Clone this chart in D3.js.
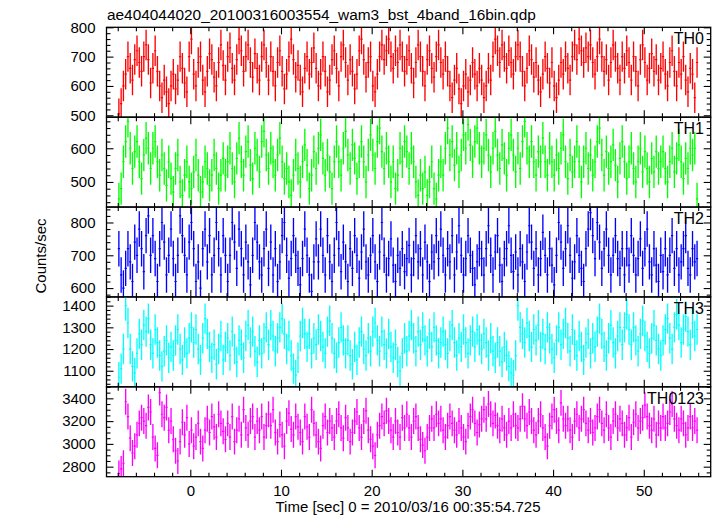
<!DOCTYPE html>
<html><head><meta charset="utf-8">
<script src="https://cdn.jsdelivr.net/npm/d3@7"></script>
<style>
html,body{margin:0;padding:0;background:#fff;}
svg{display:block;font-family:"Liberation Sans",Arial,Helvetica,sans-serif;}
</style></head>
<body>
<svg id="chart" width="717" height="516"></svg>
<script>
const title = "ae404044020_20100316003554_wam3_bst_4band_16bin.qdp";
const xLabel = "Time [sec] 0 = 2010/03/16 00:35:54.725";
const yLabel = "Counts/sec";
const panelNames = ["TH0","TH1","TH2","TH3","TH0123"];
const tStart = -7.875, binWidth = 0.25;

const th0 = [
505,540,600,640,700,660,620,690,720,680,650,700,740,690,610,660,
720,650,600,560,620,580,540,600,640,590,620,700,660,610,580,700,
760,640,600,680,700,620,580,650,710,690,630,600,680,740,670,620,
700,730,660,620,690,760,720,650,700,740,680,630,710,660,620,700,
740,680,620,700,650,600,680,720,650,590,640,700,760,690,630,670,
620,580,660,700,640,680,730,660,600,640,700,650,580,620,690,720,
660,600,700,740,680,620,690,650,590,640,720,760,690,630,680,700,
600,580,640,700,740,690,720,760,700,660,720,680,740,700,650,690,
720,660,610,680,740,700,650,600,690,720,660,630,700,740,680,640,
700,650,600,560,620,660,590,540,600,640,580,620,680,640,600,660,
620,560,600,660,620,700,760,720,680,740,700,660,720,680,640,700,
740,700,650,600,660,720,690,630,680,620,580,640,700,660,610,680,
600,560,620,680,640,700,660,620,700,740,690,760,720,680,730,700,
740,680,640,700,760,700,650,690,620,680,740,700,660,620,700,660,
720,680,620,700,650,600,690,740,680,620,660,710,650,690,620,660,
700,640,600,680,720,650,600,680,640,700,620,580,660,640,560,680];

const th1 = [
450,480,560,620,680,600,540,590,620,560,510,580,630,600,540,600,
620,560,520,580,540,490,560,510,470,540,580,500,460,520,560,500,
480,530,580,520,470,500,560,540,490,520,580,540,480,520,570,520,
560,600,540,500,570,630,560,520,590,620,550,510,600,580,530,620,
650,580,540,600,560,520,580,630,560,510,540,500,460,520,580,540,
500,560,610,550,480,520,590,540,600,640,570,520,580,530,480,560,
620,560,520,600,650,580,540,610,570,510,560,620,560,500,580,640,
580,540,620,660,590,540,600,560,500,560,480,520,600,560,620,590,
540,600,560,500,460,520,480,530,460,500,560,480,450,520,560,520,
600,660,580,620,550,600,530,580,640,600,670,610,560,620,660,600,
560,600,640,580,530,600,650,580,540,610,570,520,600,640,580,530,
600,540,620,680,600,560,620,560,520,590,560,630,560,520,600,560,
520,580,540,600,640,560,510,580,530,560,620,560,500,560,600,540,
580,520,560,620,660,580,520,590,540,560,610,550,500,570,620,560,
510,560,600,540,500,560,600,530,590,540,500,570,530,590,540,560,
590,540,500,560,600,530,570,610,560,510,570,540,600,580,600,450];

const th2 = [
720,640,600,660,720,680,620,740,700,780,720,650,760,820,700,760,
690,620,720,800,740,640,700,780,690,620,700,820,760,700,640,740,
800,720,620,680,600,720,780,680,760,640,700,800,720,640,760,700,
620,700,800,740,660,780,720,640,740,680,610,700,800,740,680,640,
720,780,660,740,640,720,620,680,760,800,700,630,690,760,700,660,
610,690,780,700,640,590,680,750,680,780,700,640,760,680,620,700,
800,720,650,740,680,620,720,660,760,700,630,710,780,680,640,700,
760,680,620,710,800,700,640,690,750,670,620,700,660,720,650,690,
730,640,690,760,680,720,640,740,680,620,710,680,760,690,780,700,
640,720,680,760,640,710,790,700,640,690,760,700,660,610,680,720,
690,640,720,790,700,640,710,760,670,620,690,720,790,700,650,710,
640,720,680,620,710,790,740,660,720,640,690,770,700,640,720,670,
610,700,800,740,660,720,790,700,630,680,760,700,660,620,720,780,
830,760,690,800,740,660,720,780,700,640,700,760,690,660,720,640,
720,670,760,700,640,690,750,660,720,780,680,640,720,670,620,700,
650,720,640,700,760,660,720,640,680,720,760,660,640,720,680,690];

const th3 = [
1070,1110,1200,1400,1320,1200,1120,1090,1180,1270,1220,1310,1280,1340,1220,1180,
1290,1230,1170,1120,1190,1240,1160,1210,1170,1240,1290,1200,1150,1230,1180,1250,
1300,1230,1290,1200,1150,1250,1340,1270,1210,1160,1220,1130,1200,1260,1150,1210,
1250,1170,1280,1200,1140,1240,1220,1160,1260,1310,1230,1280,1190,1140,1240,1180,
1250,1300,1220,1310,1260,1190,1250,1300,1340,1270,1200,1260,1170,1110,1080,1160,
1260,1320,1270,1210,1270,1180,1250,1220,1290,1260,1210,1180,1280,1330,1250,1180,
1160,1230,1300,1240,1180,1240,1170,1130,1210,1150,1230,1280,1200,1170,1250,1190,
1280,1320,1240,1190,1280,1220,1180,1270,1210,1160,1220,1140,1100,1180,1250,1190,
1260,1310,1250,1190,1280,1220,1300,1240,1190,1270,1210,1300,1240,1180,1230,1280,
1220,1180,1260,1310,1230,1170,1250,1210,1290,1230,1180,1240,1280,1210,1290,1240,
1200,1270,1230,1170,1250,1190,1160,1230,1190,1140,1210,1170,1120,1090,1080,1170,
1400,1300,1270,1230,1320,1260,1210,1290,1240,1310,1210,1270,1200,1300,1250,1200,
1160,1240,1300,1220,1270,1320,1250,1190,1290,1220,1170,1260,1210,1150,1230,1270,
1180,1250,1210,1280,1340,1270,1210,1170,1250,1310,1230,1180,1260,1300,1220,1300,
1360,1290,1220,1300,1240,1190,1270,1330,1260,1210,1180,1250,1310,1240,1200,1170,
1240,1290,1340,1250,1200,1300,1360,1310,1230,1290,1350,1280,1220,1320,1260,1290];

const th0123 = [
2740,2780,2830,3370,3240,3050,2920,2980,3080,3180,3230,3200,3160,3320,3280,3060,
2960,2900,3450,3260,3230,3320,3120,3200,3040,2940,2850,3020,3190,3080,3230,3000,
3120,2980,3060,3180,3020,2960,3120,3220,3100,3240,3150,3060,3260,3180,3110,3040,
3180,3060,3240,3020,3120,3220,3080,3300,3140,3080,3200,3240,3060,3200,3120,3240,
3060,3160,3260,3160,3300,3100,3020,3170,3080,2980,3200,3270,3130,3080,3240,3150,
3100,3020,3240,3150,3060,3300,3180,3080,3020,2960,3160,3240,3100,3200,3140,3060,
3200,3260,3140,3050,3230,3140,3020,3100,3200,3280,3140,3060,3200,3290,3120,3040,
2980,2900,3080,3160,3240,3180,3290,3200,3120,3060,3200,3100,3060,3230,3140,3260,
3140,3060,3200,3240,3140,3040,2990,2940,3060,3140,3220,3140,3260,3180,3220,3120,
3060,3160,3240,3180,3120,3080,3200,3140,3060,3020,3160,3240,3300,3180,3100,3170,
3220,3300,3220,3350,3260,3180,3250,3160,3120,3220,3140,3080,3200,3140,3260,3160,
3140,3220,3330,3220,3160,3280,3200,3120,3080,3200,3260,3140,3060,2980,3160,3240,
3300,3200,3120,3360,3220,3160,3220,3120,3060,3200,3260,3140,3220,3300,3180,3120,
3200,3100,3140,3240,3300,3180,3120,3260,3140,3060,3200,3260,3140,3220,3180,3080,
3140,3230,3060,3190,3260,3140,3200,3230,3340,3240,3160,3120,3220,3080,3180,3140,
3240,3140,3180,3280,3350,3220,3160,3120,3220,3180,3080,3140,3240,3140,3200,3120];

const seriesErrors = [52, 48, 54, 70, 114];
const yDomains = [[493.5,800],[425.5,692.3],[573,847],[1026,1440],[2712,3501]];
const yMajorTicks = [[500,600,700,800],[500,600],[600,700,800],[1100,1200,1300,1400],[2800,3000,3200,3400]];
const yMinorSteps = [20,20,20,20,50];
const xMajorTicks = [0,10,20,30,40,50];
const xMinorStep = 2;
const colors = ["#ff0000","#00ff00","#0000ff","#00ffff","#ff00ff"];
const seriesList = [th0, th1, th2, th3, th0123];

(function draw() {
const svg = d3.select("#chart");
const pL = 106.5, pR = 710.7, pT = 27.3, pB = 476.7;
const ph = (pB - pT) / 5;
const x = d3.scaleLinear().domain([-9.24, 57.38]).range([pL, pR]);
const xMinor = d3.range(-8, 57.01, xMinorStep).filter(v => xMajorTicks.indexOf(v) < 0);
const font = '"Liberation Sans",Arial,Helvetica,sans-serif';

svg.append("text").attr("x", 107).attr("y", 20).attr("font-size", 15.4).text(title);

seriesList.forEach((vals, p) => {
  const y0 = pT + p * ph, y1 = y0 + ph;
  const y = d3.scaleLinear().domain(yDomains[p]).range([y1, y0]);
  const g = svg.append("g");
  const clipId = "clip" + p;
  svg.append("clipPath").attr("id", clipId).append("rect")
    .attr("x", pL).attr("y", y0).attr("width", pR - pL).attr("height", ph);
  const dg = g.append("g").attr("clip-path", `url(#${clipId})`)
    .attr("stroke", colors[p]).attr("fill", "none");
  const e = seriesErrors[p];
  vals.forEach((v, i) => {
    const t = tStart + i * binWidth;
    dg.append("line").attr("stroke-width", 1.35)
      .attr("x1", x(t)).attr("x2", x(t)).attr("y1", y(v - e)).attr("y2", y(v + e));
    dg.append("line").attr("stroke-width", 1.2)
      .attr("x1", x(t - binWidth/2)).attr("x2", x(t + binWidth/2)).attr("y1", y(v)).attr("y2", y(v));
  });

  const [d0, d1] = yDomains[p];
  const step = yMinorSteps[p];
  const yMinor = d3.range(Math.ceil(d0/step)*step, d1 + 0.001, step).filter(v => yMajorTicks[p].indexOf(v) < 0);

  const styleAxis = sel => { sel.select(".domain").remove(); sel.selectAll("line").attr("stroke","#000").attr("stroke-width",1.1); sel.selectAll("text").attr("font-family", font).attr("font-size", 15).attr("fill","#000"); };

  g.append("g").attr("transform", `translate(${pL},0)`)
    .call(d3.axisLeft(y).tickValues(yMajorTicks[p]).tickSize(-7).tickPadding(11).tickFormat(d3.format("d"))).call(styleAxis);
  g.append("g").attr("transform", `translate(${pL},0)`)
    .call(d3.axisLeft(y).tickValues(yMinor).tickSize(-4).tickFormat("")).call(styleAxis);
  g.append("g").attr("transform", `translate(${pR},0)`)
    .call(d3.axisRight(y).tickValues(yMajorTicks[p]).tickSize(-7).tickFormat("")).call(styleAxis);
  g.append("g").attr("transform", `translate(${pR},0)`)
    .call(d3.axisRight(y).tickValues(yMinor).tickSize(-4).tickFormat("")).call(styleAxis);

  g.append("g").attr("transform", `translate(0,${y0})`)
    .call(d3.axisTop(x).tickValues(xMajorTicks).tickSize(-7).tickFormat("")).call(styleAxis);
  g.append("g").attr("transform", `translate(0,${y0})`)
    .call(d3.axisTop(x).tickValues(xMinor).tickSize(-4).tickFormat("")).call(styleAxis);
  g.append("g").attr("transform", `translate(0,${y1})`)
    .call(d3.axisBottom(x).tickValues(xMajorTicks).tickSize(-7).tickPadding(9)
      .tickFormat(p === 4 ? d3.format("d") : "")).call(styleAxis);
  g.append("g").attr("transform", `translate(0,${y1})`)
    .call(d3.axisBottom(x).tickValues(xMinor).tickSize(-4).tickFormat("")).call(styleAxis);

  g.append("rect").attr("x", pL).attr("y", y0).attr("width", pR - pL).attr("height", ph)
    .attr("fill", "none").attr("stroke", "#000").attr("stroke-width", 1.3);

  g.append("text").attr("x", 704).attr("y", y0 + 17).attr("text-anchor", "end")
    .attr("font-size", 16).text(panelNames[p]);
});

svg.append("text").attr("x", 408).attr("y", 512).attr("text-anchor", "middle")
  .attr("font-size", 15).text(xLabel);
svg.append("text").attr("transform", "translate(46,256) rotate(-90)").attr("text-anchor", "middle")
  .attr("font-size", 15).text(yLabel);
})();
</script>
</body></html>
